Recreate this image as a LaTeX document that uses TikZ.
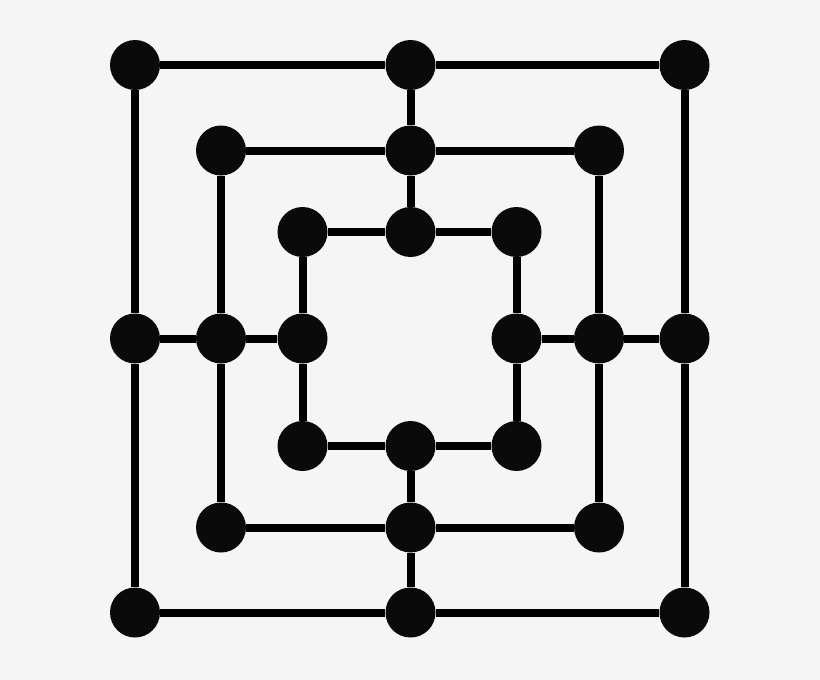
\documentclass[tikz,border=0pt]{standalone}
\definecolor{bg}{HTML}{F5F5F5}
\definecolor{dot}{HTML}{0A0A0A}
\begin{document}
\begin{tikzpicture}[x=1pt,y=-1pt,
  pt/.style={circle,fill=dot,draw=none,inner sep=0pt,minimum size=50pt},
  ln/.style={line width=8pt,draw=black}]
\fill[bg] (0,0) rectangle (820,680);
\useasboundingbox (0,0) rectangle (820,680);
% outer
\node[pt] (otl) at (135,65) {};
\node[pt] (otm) at (410.5,65) {};
\node[pt] (otr) at (684.5,65) {};
\node[pt] (oml) at (135,338.5) {};
\node[pt] (omr) at (684.5,338.5) {};
\node[pt] (obl) at (135,612.5) {};
\node[pt] (obm) at (410.5,612.5) {};
\node[pt] (obr) at (684.5,612.5) {};
% middle
\node[pt] (mtl) at (221,150.5) {};
\node[pt] (mtm) at (410.5,150.5) {};
\node[pt] (mtr) at (599,150.5) {};
\node[pt] (mml) at (221,338.5) {};
\node[pt] (mmr) at (599,338.5) {};
\node[pt] (mbl) at (221,527.5) {};
\node[pt] (mbm) at (410.5,527.5) {};
\node[pt] (mbr) at (599,527.5) {};
% inner
\node[pt] (itl) at (302.5,232) {};
\node[pt] (itm) at (410.5,232) {};
\node[pt] (itr) at (516.5,232) {};
\node[pt] (iml) at (302.5,338.5) {};
\node[pt] (imr) at (516.5,338.5) {};
\node[pt] (ibl) at (302.5,446) {};
\node[pt] (ibm) at (410.5,446) {};
\node[pt] (ibr) at (516.5,446) {};
% squares
\draw[ln] (otl) -- (otm) -- (otr) -- (omr) -- (obr) -- (obm) -- (obl) -- (oml) -- (otl);
\draw[ln] (mtl) -- (mtm) -- (mtr) -- (mmr) -- (mbr) -- (mbm) -- (mbl) -- (mml) -- (mtl);
\draw[ln] (itl) -- (itm) -- (itr) -- (imr) -- (ibr) -- (ibm) -- (ibl) -- (iml) -- (itl);
% cross connectors
\draw[ln] (otm) -- (mtm) -- (itm);
\draw[ln] (ibm) -- (mbm) -- (obm);
\draw[ln] (oml) -- (mml) -- (iml);
\draw[ln] (imr) -- (mmr) -- (omr);
\end{tikzpicture}
\end{document}
